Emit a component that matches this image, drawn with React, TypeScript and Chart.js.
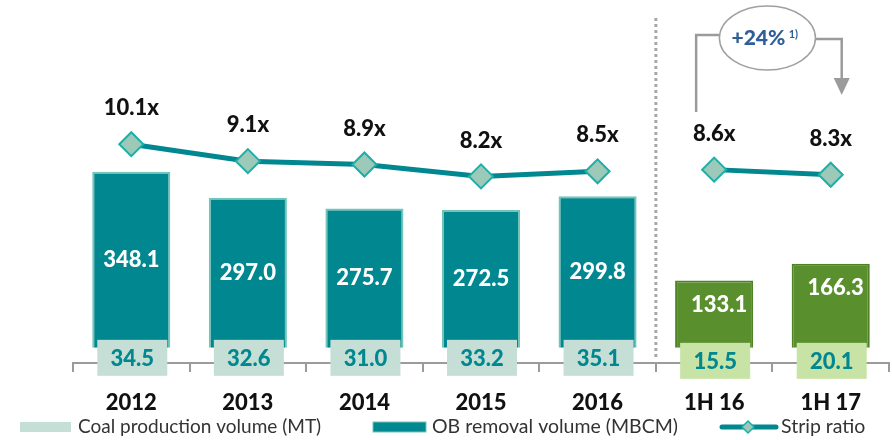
import React, { useEffect, useRef } from 'react';
import { Chart, registerables } from 'chart.js';

Chart.register(...registerables);

const categories = ['2012', '2013', '2014', '2015', '2016', '1H 16', '1H 17'];
const halfYear = [false, false, false, false, false, true, true];
const obRemoval = [348.1, 297.0, 275.7, 272.5, 299.8, 133.1, 166.3];
const coalProduction = [34.5, 32.6, 31.0, 33.2, 35.1, 15.5, 20.1];
const stripRatio = [10.1, 9.1, 8.9, 8.2, 8.5, 8.6, 8.3];
const growthLabel = '+24%';
const growthNote = '1)';
const legendLabels = ['Coal production volume (MT)', 'OB removal volume (MBCM)', 'Strip ratio'];

const FONT = 'Lato, "Open Sans", "DejaVu Sans", sans-serif';
const TEAL = '#00878F';
const TEAL_BORDER = '#72C6B9';
const TEAL_LIGHT = '#C5DFD6';
const GREEN = '#5A8F2E';
const GREEN_BORDER = '#4F8227';
const GREEN_LIGHT = '#C8E3A6';
const GREY = '#9B9B9B';

const overlayPlugin = {
  id: 'overlay',
  afterDatasetsDraw(chart: any) {
    const { ctx } = chart;
    const x = chart.scales.x;
    const y = chart.scales.y;
    const zeroY = y.getPixelForValue(0);
    const barMeta = chart.getDatasetMeta(1);
    const lineMeta = chart.getDatasetMeta(0);

    ctx.save();
    // separator
    const sepX = (x.getPixelForValue(4) + x.getPixelForValue(5)) / 2;
    ctx.strokeStyle = '#A8A8A8';
    ctx.lineWidth = 3;
    ctx.setLineDash([3, 3]);
    ctx.beginPath();
    ctx.moveTo(sepX, 18);
    ctx.lineTo(sepX, zeroY + 12);
    ctx.stroke();
    ctx.setLineDash([]);

    // bar value labels
    ctx.textAlign = 'center';
    ctx.textBaseline = 'middle';
    barMeta.data.forEach((bar: any, i: number) => {
      const p = bar.getProps(['x', 'y', 'base'], true);
      ctx.fillStyle = '#FFFFFF';
      ctx.font = `900 22px ${FONT}`;
      const ly = halfYear[i] ? p.y + 24 : (p.y + p.base) / 2;
      const lx = halfYear[i] ? p.x + 5 : p.x;
      ctx.fillText(obRemoval[i].toFixed(1), lx, ly);
    });

    // coal production boxes
    barMeta.data.forEach((bar: any, i: number) => {
      const p = bar.getProps(['x'], true);
      const w = 70;
      const h = 36;
      const top = zeroY - 8 + (halfYear[i] ? 3 : 0);
      ctx.fillStyle = halfYear[i] ? GREEN_LIGHT : TEAL_LIGHT;
      ctx.fillRect(p.x - w / 2 + 1, top, w, h);
      ctx.fillStyle = TEAL;
      ctx.font = `900 22px ${FONT}`;
      ctx.fillText(coalProduction[i].toFixed(1), p.x + 1, top + h / 2 + 1);
    });

    // strip ratio labels
    lineMeta.data.forEach((pt: any, i: number) => {
      const p = pt.getProps(['x', 'y'], true);
      ctx.fillStyle = '#111111';
      ctx.font = `900 22px ${FONT}`;
      ctx.fillText(stripRatio[i].toFixed(1) + 'x', p.x, p.y - 36);
    });

    // growth annotation
    const x5 = x.getPixelForValue(5);
    const x6 = x.getPixelForValue(6);
    const cx = (x5 + x6) / 2 - 5;
    const cy = 38;
    const rx = 48;
    const ry = 32;
    ctx.strokeStyle = GREY;
    ctx.lineWidth = 2.5;
    ctx.beginPath();
    ctx.moveTo(x5 - 18, 112);
    ctx.lineTo(x5 - 18, 35);
    ctx.lineTo(cx - rx, 35);
    ctx.stroke();
    ctx.beginPath();
    ctx.moveTo(cx + rx, 39);
    ctx.lineTo(x6 + 11, 39);
    ctx.lineTo(x6 + 11, 80);
    ctx.stroke();
    ctx.fillStyle = GREY;
    ctx.beginPath();
    ctx.moveTo(x6 + 3, 78);
    ctx.lineTo(x6 + 19, 78);
    ctx.lineTo(x6 + 11, 95);
    ctx.closePath();
    ctx.fill();

    ctx.beginPath();
    ctx.ellipse(cx, cy, rx, ry, 0, 0, Math.PI * 2);
    ctx.fillStyle = '#FFFFFF';
    ctx.fill();
    ctx.lineWidth = 1.5;
    ctx.strokeStyle = '#A0A0A0';
    ctx.stroke();
    ctx.fillStyle = '#2F5E98';
    ctx.font = `900 21px ${FONT}`;
    ctx.textAlign = 'center';
    ctx.fillText(growthLabel, cx - 9, cy);
    ctx.font = `bold 11px ${FONT}`;
    ctx.fillText(growthNote, cx + 26, cy - 4);
    ctx.restore();
  },
  afterDraw(chart: any) {
    const { ctx } = chart;
    const ly = 427;
    ctx.save();
    ctx.textAlign = 'left';
    ctx.textBaseline = 'middle';
    ctx.font = `19px ${FONT}`;
    ctx.fillStyle = TEAL_LIGHT;
    ctx.fillRect(20, ly - 5, 51, 10);
    ctx.fillStyle = '#333333';
    ctx.fillText(legendLabels[0], 78, ly);

    ctx.fillStyle = TEAL;
    ctx.fillRect(373, ly - 5, 53, 10);
    ctx.strokeStyle = TEAL_BORDER;
    ctx.lineWidth = 1;
    ctx.strokeRect(373, ly - 5, 53, 10);
    ctx.fillStyle = '#333333';
    ctx.font = `19.5px ${FONT}`;
    ctx.fillText(legendLabels[1], 432, ly);

    ctx.strokeStyle = TEAL;
    ctx.lineWidth = 5;
    ctx.lineCap = 'round';
    ctx.beginPath();
    ctx.moveTo(722, ly);
    ctx.lineTo(776, ly);
    ctx.stroke();
    ctx.beginPath();
    ctx.moveTo(748, ly - 6);
    ctx.lineTo(754, ly);
    ctx.lineTo(748, ly + 6);
    ctx.lineTo(742, ly);
    ctx.closePath();
    ctx.fillStyle = '#9CC9B8';
    ctx.fill();
    ctx.lineWidth = 1.5;
    ctx.strokeStyle = '#1AB0A8';
    ctx.stroke();
    ctx.fillStyle = '#333333';
    ctx.font = `19.5px ${FONT}`;
    ctx.fillText(legendLabels[2], 781, ly);
    ctx.restore();
  },
};

export default function App() {
  const ref = useRef<HTMLCanvasElement | null>(null);

  useEffect(() => {
    if (!ref.current) return;
    const chart = new Chart(ref.current, {
      type: 'bar',
      data: {
        labels: categories,
        datasets: [
          {
            type: 'line',
            label: 'Strip ratio',
            data: stripRatio,
            yAxisID: 'y1',
            order: 0,
            borderColor: TEAL,
            borderWidth: 5,
            pointStyle: 'rectRot',
            pointRadius: 12,
            pointBackgroundColor: '#9CC9B8',
            pointBorderColor: '#1AB0A8',
            pointBorderWidth: 2,
            tension: 0,
            segment: {
              borderColor: (c: any) => (c.p0DataIndex === 4 ? 'rgba(0,0,0,0)' : TEAL),
            },
          } as any,
          {
            type: 'bar',
            label: 'OB removal volume (MBCM)',
            data: obRemoval,
            yAxisID: 'y',
            order: 1,
            backgroundColor: halfYear.map((h) => (h ? GREEN : TEAL)),
            borderColor: halfYear.map((h) => (h ? GREEN_BORDER : TEAL_BORDER)),
            borderWidth: 2,
            categoryPercentage: 1,
            barPercentage: 0.67,
          },
        ],
      },
      options: {
        animation: false,
        responsive: true,
        maintainAspectRatio: false,
        layout: { autoPadding: false, padding: { left: 73, right: 3, top: 0, bottom: 0 } },
        plugins: {
          legend: { display: false },
          tooltip: { enabled: false },
        },
        scales: {
          x: {
            offset: true,
            grid: {
              offset: true,
              drawOnChartArea: false,
              drawTicks: true,
              tickLength: 9,
              color: GREY,
              lineWidth: 2,
            },
            border: { display: true, color: GREY, width: 2 },
            ticks: {
              color: '#111111',
              font: { family: FONT, size: 22, weight: '900' },
              padding: 18,
            },
            afterFit: (s: any) => {
              s.height = 77;
            },
          },
          y: { display: false, min: -30, max: 688 },
          y1: { display: false, min: -2.8, max: 18.6, position: 'right' },
        },
      },
      plugins: [overlayPlugin],
    });
    return () => chart.destroy();
  }, []);

  return (
    <div style={{ position: 'fixed', left: 0, top: 0, width: 892, height: 440, background: '#fff' }}>
      <canvas ref={ref} />
    </div>
  );
}
